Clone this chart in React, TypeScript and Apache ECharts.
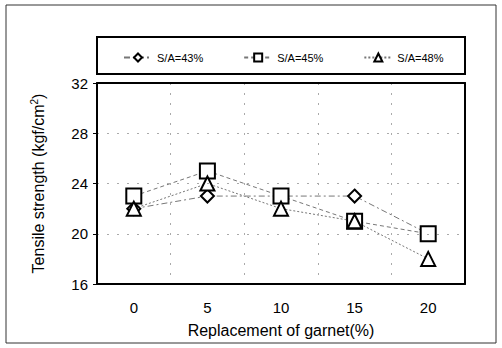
import React, { useEffect, useRef } from "react";
import * as echarts from "echarts";

const categories = ["0", "5", "10", "15", "20"];
const sa43 = [22, 23, 23, 23, 20];
const sa45 = [23, 25, 23, 21, 20];
const sa48 = [22, 24, 22, 21, 18];
const seriesNames = ["S/A=43%", "S/A=45%", "S/A=48%"];

export default function App() {
  const ref = useRef<HTMLDivElement>(null);
  useEffect(() => {
    if (!ref.current) return;
    const chart = echarts.init(ref.current, null, { renderer: "svg" });
    const font = "Liberation Sans";
    const mk = (name: string, data: number[], symbol: string, size: number, dash: any) => ({
      name,
      type: "line",
      data,
      symbol,
      symbolSize: size,
      itemStyle: { color: "#fff", borderColor: "#000", borderWidth: 2 },
      lineStyle: { color: "#777", width: 1, type: dash },
      z: 3,
    });
    const frameAxis = { show: true, lineStyle: { color: "#000", width: 2 } };
    chart.setOption({
      animation: false,
      backgroundColor: "#fff",
      textStyle: { fontFamily: font },
      graphic: [
        {
          type: "rect",
          shape: { x: 6, y: 5, width: 490, height: 338 },
          style: { fill: "none", stroke: "#333", lineWidth: 1 },
        },
        {
          type: "rect",
          shape: { x: 97, y: 37, width: 368, height: 37 },
          style: { fill: "none", stroke: "#000", lineWidth: 2 },
        },
      ],
      legend: {
        data: seriesNames,
        top: 47,
        left: 118,
        itemGap: 40,
        itemWidth: 28,
        itemHeight: 10,
        textStyle: { fontFamily: font, fontSize: 11, color: "#000" },
      },
      grid: {
        left: 97,
        right: 37,
        top: 83,
        bottom: 64,
      },
      xAxis: [
        {
          type: "category",
          data: categories,
          boundaryGap: true,
          name: "Replacement of garnet(%)",
          nameLocation: "middle",
          nameGap: 38,
          nameTextStyle: { fontSize: 16, color: "#000", fontFamily: font },
          axisLine: frameAxis,
          axisTick: { inside: true, length: 5, lineStyle: { color: "#000", width: 1.5 } },
          axisLabel: { margin: 16, fontSize: 15, color: "#000", fontFamily: font },
          splitLine: { show: true, lineStyle: { color: "#aaa", type: [2, 8], width: 1 } },
          z: 5,
        },
        {
          type: "category",
          data: categories,
          position: "top",
          axisLine: frameAxis,
          axisTick: { show: false },
          axisLabel: { show: false },
          splitLine: { show: false },
          z: 5,
        },
      ],
      yAxis: [
        {
          type: "value",
          min: 16,
          max: 32,
          interval: 4,
          name: "Tensile strength (kgf/cm{sup|2})",
          nameLocation: "middle",
          nameGap: 50,
          nameTextStyle: {
            fontSize: 16,
            color: "#000",
            fontFamily: font,
            rich: { sup: { fontSize: 10, verticalAlign: "top", padding: [0, 0, 8, 0], fontFamily: font } },
          },
          axisLine: frameAxis,
          axisTick: { show: true, inside: false, length: 4, lineStyle: { color: "#000" } },
          axisLabel: { margin: 9, fontSize: 15, color: "#000", fontFamily: font },
          splitLine: { show: true, lineStyle: { color: "#aaa", type: [2, 8], width: 1 } },
          z: 5,
        },
        {
          type: "value",
          min: 16,
          max: 32,
          interval: 4,
          position: "right",
          axisLine: frameAxis,
          axisTick: { show: false },
          axisLabel: { show: false },
          splitLine: { show: false },
          z: 5,
        },
      ],
      series: [
        mk(seriesNames[0], sa43, "diamond", 13, [6, 3, 2, 3]),
        mk(seriesNames[1], sa45, "rect", 15, [4, 3]),
        mk(seriesNames[2], sa48, "triangle", 14, [2, 2]),
      ],
    });
    return () => chart.dispose();
  }, []);
  return <div ref={ref} style={{ width: 502, height: 348, position: "absolute", left: 0, top: 0 }} />;
}
